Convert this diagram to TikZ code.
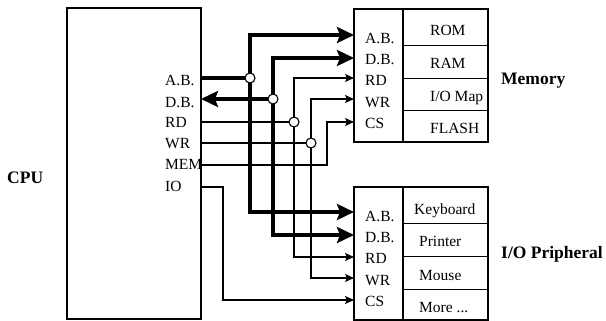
\documentclass[tikz,border=0pt]{standalone}
\usepackage{fontspec}
\setmainfont{Liberation Serif}
\usetikzlibrary{arrows.meta}
\begin{document}
\begin{tikzpicture}[x=1pt,y=-1pt,
  box/.style={draw,line width=1.1pt},
  lbl/.style={anchor=base west,inner sep=0pt,font=\fontsize{15.5}{18}\selectfont},
  ttl/.style={anchor=base west,inner sep=0pt,font=\fontsize{17.5}{20}\selectfont\bfseries},
  bus/.style={line width=4pt,line join=miter},
  busarrow/.style={bus,-{Stealth[length=17pt,width=16pt,inset=3pt]}},
  busboth/.style={bus,{Stealth[length=17pt,width=16pt,inset=3pt]}-{Stealth[length=17pt,width=16pt,inset=3pt]}},
  sig/.style={line width=1.1pt},
  sigarrow/.style={sig,-{Stealth[length=9pt,width=8pt,inset=2pt]}},
  sigboth/.style={sig,{Stealth[length=9pt,width=8pt,inset=2pt]}-{Stealth[length=9pt,width=8pt,inset=2pt]}},
  joint/.style={circle,draw,fill=white,line width=1.1pt,minimum size=10pt,inner sep=0pt}]

\useasboundingbox (0,0) rectangle (606,321);

% boxes
\draw[box] (67,8) rectangle (201,319);
\draw[box] (354,9) rectangle (488,142);
\draw[box] (403,9) -- (403,142);
\draw[box] (403,45.7) -- (488,45.7) (403,78.3) -- (488,78.3) (403,110.7) -- (488,110.7);
\draw[box] (354,187) rectangle (488,320);
\draw[box] (403,187) -- (403,320);
\draw[box] (403,223.3) -- (488,223.3) (403,256.7) -- (488,256.7) (403,289.3) -- (488,289.3);

% titles
\node[ttl] (tcpu) at (7,183) {CPU};
\node[ttl] (tmem) at (501,85) {Memory};
\node[ttl] (tio) at (501,258) {I/O Pripheral};

% CPU labels
\node[lbl] (cab) at (165,86) {A.B.};
\node[lbl] (cdb) at (165,107) {D.B.};
\node[lbl] (crd) at (165,128) {RD};
\node[lbl] (cwr) at (165,149) {WR};
\node[lbl] (cmem) at (165,170) {MEM};
\node[lbl] (cio) at (165,191) {IO};

% memory labels
\node[lbl] (mab) at (365,43.3) {A.B.};
\node[lbl] (mdb) at (365,64.5) {D.B.};
\node[lbl] (mrd) at (365,85.8) {RD};
\node[lbl] (mwr) at (365,107) {WR};
\node[lbl] (mcs) at (365,128.3) {CS};
\node[lbl] (rom) at (430,36) {ROM};
\node[lbl] (ram) at (430,69) {RAM};
\node[lbl] (iomap) at (430,101.5) {I/O Map};
\node[lbl] (flash) at (430,134) {FLASH};

% io labels
\node[lbl] (iab) at (365,221) {A.B.};
\node[lbl] (idb) at (365,242.5) {D.B.};
\node[lbl] (ird) at (365,263.5) {RD};
\node[lbl] (iwr) at (365,285) {WR};
\node[lbl] (ics) at (365,306.5) {CS};
\node[lbl] (kbd) at (414,214) {Keyboard};
\node[lbl] (prn) at (419,246.5) {Printer};
\node[lbl] (mou) at (419,280) {Mouse};
\node[lbl] (more) at (419,312.7) {More ...};

% coordinates
\coordinate (oAB) at (201,78);
\coordinate (oDB) at (201,99);
\coordinate (oRD) at (201,122);
\coordinate (oWR) at (201,143);
\coordinate (oMEM) at (201,165);
\coordinate (oIO) at (201,187);
\coordinate (jAB) at (250,78);
\coordinate (jDB) at (273,99);
\coordinate (jRD) at (294,122);
\coordinate (jWR) at (311,143);
\coordinate (inMAB) at (354,35);
\coordinate (inMDB) at (354,58);
\coordinate (inMRD) at (354,78);
\coordinate (inMWR) at (354,99);
\coordinate (inMCS) at (354,122);
\coordinate (inIAB) at (354,212);
\coordinate (inIDB) at (354,235);
\coordinate (inIRD) at (354,257);
\coordinate (inIWR) at (354,278);
\coordinate (inICS) at (354,300);

% buses
\draw[bus] (oAB) -- (jAB);
\draw[busboth] (inMAB) -| (jAB) |- (inIAB);
\draw[busarrow] (jDB) -- (oDB);
\draw[busboth] (inMDB) -| (jDB) |- (inIDB);
% control
\draw[sig] (oRD) -- (jRD);
\draw[sigboth] (inMRD) -| (jRD) |- (inIRD);
\draw[sig] (oWR) -- (jWR);
\draw[sigboth] (inMWR) -| (jWR) |- (inIWR);
\draw[sigarrow] (oMEM) -- (327,165) |- (inMCS);
\draw[sigarrow] (oIO) -- (223,187) |- (inICS);

% joints
\foreach \j in {jAB,jDB,jRD,jWR} \node[joint] at (\j) {};
\end{tikzpicture}
\end{document}
